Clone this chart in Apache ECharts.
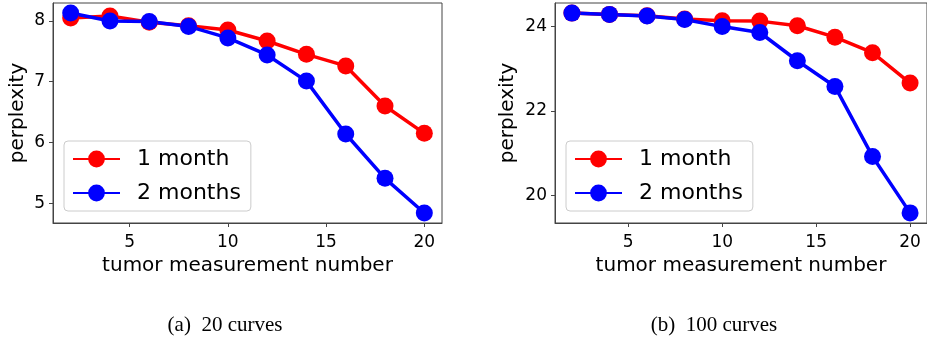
<!DOCTYPE html>
<html>
<head>
<meta charset="utf-8">
<script src="https://cdn.jsdelivr.net/npm/echarts@6/dist/echarts.min.js"></script>
<style>
  html, body { margin: 0; padding: 0; background: #fff; }
  #chart { width: 927px; height: 341px; }
</style>
</head>
<body>
<div id="chart"></div>
<script>
// measurement numbers on the x axis
const steps = [2, 4, 6, 8, 10, 12, 14, 16, 18, 20];
// (a) 20 curves
const a1Month = [8.05, 8.08, 7.98, 7.92, 7.85, 7.67, 7.45, 7.26, 6.60, 6.15];
const a2Months = [8.13, 8.00, 7.99, 7.91, 7.72, 7.44, 7.01, 6.14, 5.41, 4.84];
// (b) 100 curves
const b1Month = [24.32, 24.29, 24.26, 24.18, 24.14, 24.13, 24.02, 23.75, 23.38, 22.66];
const b2Months = [24.32, 24.29, 24.25, 24.17, 24.00, 23.86, 23.19, 22.58, 20.92, 19.58];
// tick labels
const xTicks = [5, 10, 15, 20];
const aYTicks = [5, 6, 7, 8];
const bYTicks = [20, 22, 24];
const names = ['1 month', '2 months'];
const captions = ['(a)  20 curves', '(b)  100 curves'];

const font = 'DejaVu Sans';
const pair = (ys) => steps.map((x, i) => [x, ys[i]]);

function xAxis(gridIndex) {
  return {
    gridIndex,
    type: 'value',
    min: 1.1, max: 20.9,
    name: 'tumor measurement number',
    nameLocation: 'middle',
    nameGap: 31,
    nameTextStyle: { fontFamily: font, fontSize: 20, color: '#000' },
    axisLine: { lineStyle: { color: '#444', width: 1 } },
    axisTick: { customValues: xTicks, length: 4, lineStyle: { color: '#444' } },
    axisLabel: { customValues: xTicks, margin: 11, fontFamily: font, fontSize: 17, color: '#000' },
    splitLine: { show: false }
  };
}
function yAxis(gridIndex, min, max, ticks, gap) {
  return {
    gridIndex,
    type: 'value',
    min, max,
    name: 'perplexity',
    nameLocation: 'middle',
    nameGap: gap,
    nameTextStyle: { fontFamily: font, fontSize: 20, color: '#000' },
    axisLine: { show: true, lineStyle: { color: '#444', width: 1 } },
    axisTick: { show: true, customValues: ticks, length: 4, lineStyle: { color: '#444' } },
    axisLabel: { customValues: ticks, margin: 8, fontFamily: font, fontSize: 17, color: '#000' },
    splitLine: { show: false }
  };
}
function series(name, color, idx, ys) {
  return {
    name, type: 'line',
    xAxisIndex: idx, yAxisIndex: idx,
    data: pair(ys),
    symbol: 'circle', symbolSize: 17,
    color,
    lineStyle: { width: 3.5, color },
    itemStyle: { color }
  };
}
function legend(left) {
  return {
    data: names,
    orient: 'vertical',
    left, top: 141,
    itemWidth: 47, itemHeight: 21, itemGap: 12,
    padding: [7, 10, 7, 8],
    backgroundColor: '#fff',
    borderColor: '#ccc', borderWidth: 1, borderRadius: 4,
    textStyle: { fontFamily: font, fontSize: 22, color: '#000', padding: [0, 0, 0, 12] }
  };
}

const chart = echarts.init(document.getElementById('chart'));
chart.setOption({
  animation: false,
  backgroundColor: '#fff',
  grid: [
    { left: 53, top: 3, width: 389, height: 220, show: true, borderColor: '#444', borderWidth: 1 },
    { left: 555, top: 3, width: 375, height: 220, show: true, borderColor: '#444', borderWidth: 1 }
  ],
  xAxis: [xAxis(0), xAxis(1)],
  yAxis: [
    yAxis(0, 4.675, 8.295, aYTicks, 25),
    yAxis(1, 19.34, 24.56, bYTicks, 37)
  ],
  legend: [legend(64), legend(566)],
  series: [
    series(names[0], '#ff0000', 0, a1Month),
    series(names[1], '#0000ff', 0, a2Months),
    series(names[0], '#ff0000', 1, b1Month),
    series(names[1], '#0000ff', 1, b2Months)
  ],
  graphic: [
    { type: 'text', x: 225, y: 325, style: { text: captions[0], fontFamily: 'Liberation Serif', fontSize: 21, fill: '#000', align: 'center', verticalAlign: 'middle' } },
    { type: 'text', x: 714, y: 325, style: { text: captions[1], fontFamily: 'Liberation Serif', fontSize: 21, fill: '#000', align: 'center', verticalAlign: 'middle' } }
  ]
});
</script>
</body>
</html>
